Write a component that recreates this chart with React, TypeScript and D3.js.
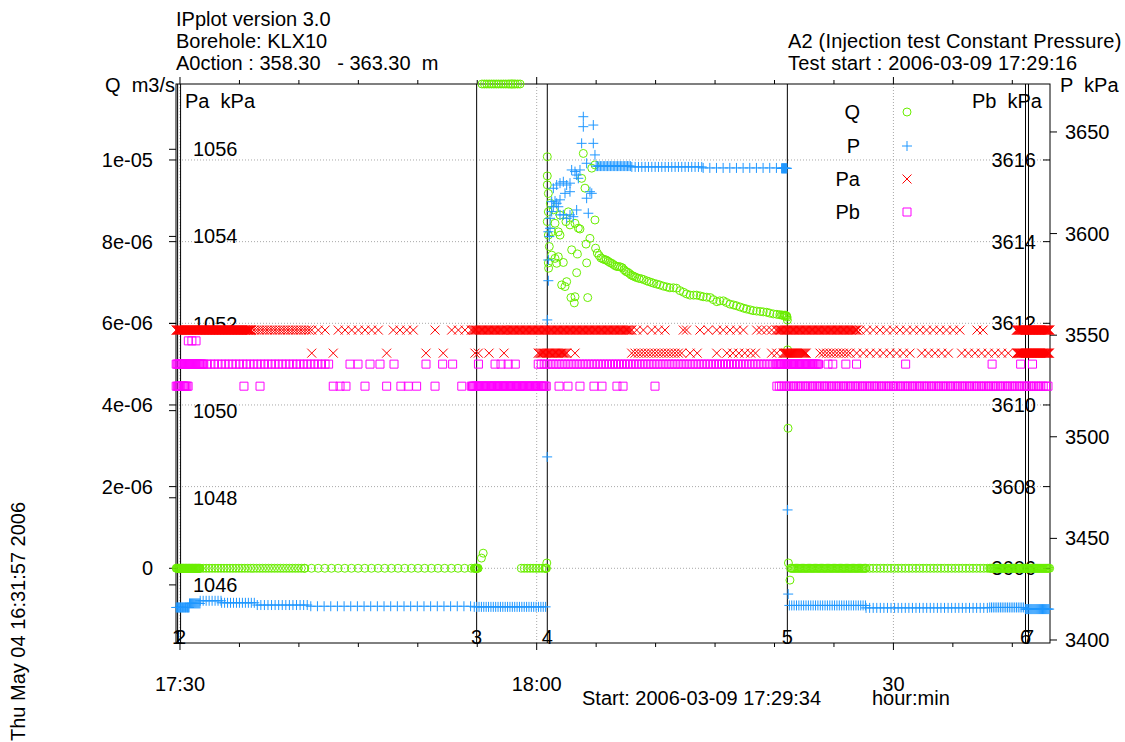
import React from "react";
import * as d3 from "d3";

type Pt = [number, number];
type Run = [number, number, number, number]; // [fromMinute, toMinute, sampleStep, value]

const FONT = "'Liberation Sans', Arial, Helvetica, sans-serif";
const FS = 20;

// ---------------- texts ----------------
const headerLeft = ["IPplot version 3.0", "Borehole: KLX10", "A0ction : 358.30   - 363.30  m"];
const headerRight = ["A2 (Injection test Constant Pressure)", "Test start : 2006-03-09 17:29:16"];
const printStamp = "Thu May 04 16:31:57 2006";
const startLabel = "Start: 2006-03-09 17:29:34";
const unitLabel = "hour:min";

// ---------------- axes ----------------
// time is in minutes after 17:30
const timeDomain: [number, number] = [-0.336, 73.17];
const timeMinorTicks = [0, 5, 10, 15, 20, 25, 30, 35, 40, 45, 50, 55, 60, 65, 70];
const timeMajorTicks = [0, 30, 60];
const timeMajorLabels = ["17:30", "18:00", "30"];

const qDomain: [number, number] = [-1.83e-6, 11.861e-6];
const qTicks = [0, 2e-6, 4e-6, 6e-6, 8e-6, 1e-5];
const qTickLabels = ["0", "2e-06", "4e-06", "6e-06", "8e-06", "1e-05"];

const paDomain: [number, number] = [1044.666, 1057.499];
const paTicks = [1046, 1048, 1050, 1052, 1054, 1056];

const pbDomain: [number, number] = [3604.17, 3617.861];
const pbTicks = [3606, 3608, 3610, 3612, 3614, 3616];

const pDomain: [number, number] = [3398.52, 3673.6];
const pTicks = [3400, 3450, 3500, 3550, 3600, 3650];

const eventTimes = [-0.2, 0.05, 24.95, 30.89, 51.08, 71.11, 71.36];
const eventLabels = ["1", "2", "3", "4", "5", "6", "7"];

// ---------------- data ----------------
// Q (m3/s)
const qRuns: Run[] = [
  [-0.32, 1.7, 0.05, 0],
  [1.7, 10.5, 0.25, 0],
  [10.5, 24.75, 0.56, 0],
  [24.75, 25.1, 0.04, 0],
  [25.4, 28.6, 0.2, 20e-6],
  [28.7, 30.7, 0.25, 0],
  [30.7, 30.85, 0.04, 0],
  [51.35, 57.7, 0.1, 0],
  [57.7, 68.1, 0.3, 0],
  [68.1, 73.15, 0.08, 0],
];
const qPoints: Pt[] = [
  [25.35, 0.25e-6], [25.5, 0.37e-6], [30.85, 0.13e-6],
  [30.89, 10.08e-6], [30.89, 9.61e-6], [30.89, 9.39e-6], [30.98, 9.18e-6], [30.98, 8.73e-6],
  [30.89, 8.49e-6], [30.98, 8.16e-6], [31.06, 7.88e-6], [30.98, 7.48e-6], [31.0, 7.35e-6],
  [31.15, 8.94e-6], [31.26, 7.67e-6], [31.54, 7.59e-6], [31.82, 7.63e-6], [31.68, 7.47e-6],
  [32.24, 7.49e-6], [31.26, 8.24e-6], [31.54, 8.45e-6], [31.82, 8.24e-6], [31.96, 8.16e-6],
  [31.4, 8.78e-6], [31.96, 8.65e-6], [32.46, 8.49e-6], [32.66, 8.73e-6], [32.8, 8.41e-6],
  [33.22, 8.45e-6], [33.5, 8.33e-6], [33.64, 8.31e-6], [32.1, 6.94e-6], [32.52, 7.02e-6],
  [32.38, 6.9e-6], [32.94, 7.8e-6], [33.42, 7.7e-6], [33.36, 7.24e-6], [32.88, 6.63e-6],
  [33.22, 6.65e-6], [33.16, 6.5e-6], [34.29, 6.63e-6], [34.2, 7.48e-6], [34.15, 7.94e-6],
  [33.92, 10.16e-6], [33.78, 9.55e-6], [34.06, 9.31e-6], [34.48, 8.08e-6], [34.9, 8.53e-6],
  [34.63, 9.8e-6], [34.9, 9.88e-6],
  [34.95, 7.84e-6], [35.1, 7.72e-6], [35.25, 7.66e-6], [35.4, 7.6e-6], [35.55, 7.58e-6],
  [35.7, 7.56e-6], [35.85, 7.55e-6], [36.0, 7.52e-6], [36.15, 7.49e-6], [36.3, 7.47e-6],
  [36.45, 7.44e-6], [36.6, 7.41e-6], [36.75, 7.39e-6], [36.9, 7.39e-6], [37.05, 7.38e-6],
  [37.2, 7.36e-6], [37.35, 7.31e-6], [37.5, 7.27e-6], [37.65, 7.25e-6], [37.8, 7.22e-6],
  [37.95, 7.18e-6], [38.1, 7.16e-6], [38.25, 7.14e-6], [38.4, 7.12e-6], [38.6, 7.1e-6],
  [38.8, 7.09e-6], [39.0, 7.07e-6], [39.25, 7.04e-6], [39.45, 7.02e-6], [39.65, 7.0e-6],
  [39.85, 6.98e-6], [40.1, 6.96e-6], [40.35, 6.94e-6], [40.65, 6.91e-6], [40.95, 6.89e-6],
  [41.2, 6.87e-6], [41.5, 6.87e-6], [41.75, 6.86e-6], [42.05, 6.8e-6], [42.35, 6.76e-6],
  [42.6, 6.72e-6], [42.9, 6.69e-6], [43.2, 6.69e-6], [43.45, 6.69e-6], [43.75, 6.67e-6],
  [44.0, 6.65e-6], [44.3, 6.64e-6], [44.6, 6.63e-6], [44.85, 6.58e-6], [45.15, 6.53e-6],
  [45.4, 6.55e-6], [45.7, 6.55e-6], [45.95, 6.51e-6], [46.25, 6.47e-6], [46.55, 6.45e-6],
  [46.8, 6.43e-6], [47.1, 6.4e-6], [47.4, 6.37e-6], [47.65, 6.35e-6], [47.95, 6.33e-6],
  [48.2, 6.31e-6], [48.5, 6.3e-6], [48.8, 6.29e-6], [49.05, 6.28e-6], [49.35, 6.27e-6],
  [49.6, 6.25e-6], [49.9, 6.23e-6], [50.2, 6.22e-6], [50.45, 6.21e-6], [50.6, 6.2e-6],
  [50.7, 6.2e-6], [50.8, 6.19e-6], [50.88, 6.2e-6], [50.95, 6.19e-6], [51.02, 6.18e-6],
  [51.06, 6.15e-6], [51.08, 6.08e-6], [51.1, 5.35e-6], [51.14, 3.43e-6], [51.17, 0.13e-6],
  [51.3, -0.29e-6],
];

// P (kPa)
const pRuns: Run[] = [
  [-0.32, 0.8, 0.06, 3416.0],
  [0.8, 1.7, 0.08, 3418.0],
  [1.7, 3.5, 0.25, 3419.3],
  [3.5, 6.5, 0.25, 3418.3],
  [6.5, 11.0, 0.3, 3417.2],
  [11.0, 24.75, 0.56, 3416.6],
  [24.75, 30.85, 0.2, 3416.3],
  [35.0, 38.0, 0.12, 3633.2],
  [38.0, 44.0, 0.28, 3632.8],
  [44.0, 50.6, 0.56, 3632.3],
  [50.6, 51.08, 0.04, 3632.1],
  [51.25, 57.7, 0.2, 3417.0],
  [57.7, 68.1, 0.3, 3415.8],
  [68.1, 71.1, 0.15, 3416.0],
  [71.1, 73.15, 0.08, 3415.2],
];
const pPoints: Pt[] = [
  [30.88, 3490.1], [30.89, 3557.5], [30.98, 3576.8], [30.98, 3587.0], [31.06, 3598.5],
  [30.98, 3600.9], [31.12, 3602.6], [31.12, 3607.5], [31.26, 3610.8], [31.4, 3613.2],
  [31.26, 3615.7], [31.54, 3616.0], [31.68, 3614.9], [31.96, 3616.6], [31.82, 3613.2],
  [31.4, 3622.3], [31.68, 3623.9], [31.96, 3624.8], [32.24, 3625.5], [32.52, 3623.9],
  [32.8, 3624.8], [32.38, 3619.8], [32.8, 3620.6], [32.94, 3631.3], [33.22, 3630.5],
  [33.64, 3631.3], [33.36, 3628.8], [33.5, 3627.2], [31.96, 3609.2], [32.24, 3609.2],
  [32.8, 3609.2], [33.36, 3611.6], [33.08, 3608.3], [32.52, 3607.5], [34.34, 3610.0],
  [34.2, 3617.4], [34.63, 3619.8], [34.48, 3620.6], [33.78, 3644.4], [34.76, 3644.4],
  [33.92, 3652.6], [34.76, 3653.4], [33.92, 3657.5], [34.9, 3638.7], [34.2, 3634.6],
  [51.1, 3464.0], [51.15, 3422.6],
];

// Pa (kPa)
const paRuns: Run[] = [
  [-0.32, 6.0, 0.05, 1051.85],
  [6.0, 10.9, 0.22, 1051.85],
  [24.5, 38.1, 0.1, 1051.85],
  [50.15, 56.95, 0.1, 1051.85],
  [57.19, 65.7, 0.56, 1051.85],
  [70.35, 73.15, 0.05, 1051.85],
  [30.13, 32.55, 0.1, 1051.32],
  [37.99, 42.35, 0.28, 1051.32],
  [50.74, 52.7, 0.08, 1051.32],
  [53.83, 56.1, 0.28, 1051.32],
  [56.35, 61.7, 0.56, 1051.32],
  [62.38, 64.95, 0.56, 1051.32],
  [65.74, 70.1, 0.56, 1051.32],
  [70.37, 73.15, 0.05, 1051.32],
];
const paPoints: Pt[] = [
  [11.08, 1051.85], [11.63, 1051.85], [12.2, 1051.85], [13.31, 1051.85], [13.88, 1051.85],
  [14.44, 1051.85], [15.0, 1051.85], [15.56, 1051.85], [16.12, 1051.85], [16.68, 1051.85],
  [17.94, 1051.85], [18.5, 1051.85], [19.07, 1051.85], [19.62, 1051.85], [21.45, 1051.85],
  [22.85, 1051.85], [23.41, 1051.85], [23.97, 1051.85], [38.41, 1051.85], [38.97, 1051.85],
  [39.67, 1051.85], [40.23, 1051.85], [40.79, 1051.85], [42.33, 1051.85], [42.6, 1051.85],
  [43.73, 1051.85], [44.43, 1051.85], [45.14, 1051.85], [45.69, 1051.85], [46.26, 1051.85],
  [46.82, 1051.85], [47.38, 1051.85], [48.5, 1051.85], [48.9, 1051.85], [49.34, 1051.85],
  [49.76, 1051.85], [67.03, 1051.85], [67.54, 1051.85],
  [11.08, 1051.32], [12.89, 1051.32], [17.38, 1051.32], [20.69, 1051.32], [22.14, 1051.32],
  [24.81, 1051.32], [25.09, 1051.32], [25.99, 1051.32], [27.25, 1051.32], [33.22, 1051.32],
  [42.9, 1051.32], [43.5, 1051.32], [45.14, 1051.32], [46.0, 1051.32], [46.5, 1051.32],
  [47.0, 1051.32], [47.5, 1051.32], [48.0, 1051.32], [48.4, 1051.32], [49.76, 1051.32],
  [50.19, 1051.32],
];

// Pb (kPa)
const pbRuns: Run[] = [
  [-0.32, 2.0, 0.08, 3611.0],
  [2.0, 12.6, 0.3, 3611.0],
  [30.13, 50.2, 0.25, 3611.0],
  [50.2, 53.8, 0.1, 3611.0],
  [-0.32, 0.75, 0.1, 3610.46],
  [24.5, 30.9, 0.1, 3610.46],
  [50.2, 73.15, 0.2, 3610.46],
];
const pbPoints: Pt[] = [
  [0.7, 3611.57], [1.0, 3611.57], [1.35, 3611.57],
  [14.3, 3611.0], [14.97, 3611.0], [15.98, 3611.0], [16.82, 3611.0], [18.0, 3611.0],
  [20.69, 3611.0], [22.09, 3611.0], [22.93, 3611.0], [25.1, 3611.0], [26.5, 3611.0],
  [27.0, 3611.0], [27.6, 3611.0], [28.2, 3611.0], [54.5, 3611.0], [54.9, 3611.0],
  [56.0, 3611.0], [56.9, 3611.0], [61.03, 3611.0], [68.3, 3611.0], [70.7, 3611.0],
  [71.7, 3611.0],
  [5.38, 3610.46], [6.73, 3610.46], [12.89, 3610.46], [13.46, 3610.46], [13.96, 3610.46],
  [15.56, 3610.46], [17.38, 3610.46], [18.58, 3610.46], [19.2, 3610.46], [19.9, 3610.46],
  [21.45, 3610.46], [23.7, 3610.46], [31.88, 3610.46], [32.63, 3610.46], [33.64, 3610.46],
  [34.82, 3610.46], [35.49, 3610.46], [36.75, 3610.46], [37.26, 3610.46], [39.95, 3610.46],
];

const seriesNames = ["Q", "P", "Pa", "Pb"];
const seriesColors = ["#6aee00", "#1f97ff", "#ff0000", "#ff00ff"];

// ---------------- helpers ----------------
function expand(runs: Run[], pts: Pt[]): Pt[] {
  const out: Pt[] = [];
  for (const [a, b, step, v] of runs) {
    for (const t of d3.range(a, b, step)) out.push([t, v]);
  }
  return out.concat(pts);
}

type Kind = "circle" | "plus" | "cross" | "square";

function symbols(kind: Kind, xy: [number, number][]): string {
  const p = d3.path();
  for (const [cx, cy] of xy) {
    if (kind === "circle") {
      p.moveTo(cx + 4, cy);
      p.arc(cx, cy, 4, 0, 2 * Math.PI);
    } else if (kind === "plus") {
      p.moveTo(cx - 5, cy); p.lineTo(cx + 5, cy);
      p.moveTo(cx, cy - 5); p.lineTo(cx, cy + 5);
    } else if (kind === "cross") {
      p.moveTo(cx - 4.5, cy - 4.5); p.lineTo(cx + 4.5, cy + 4.5);
      p.moveTo(cx - 4.5, cy + 4.5); p.lineTo(cx + 4.5, cy - 4.5);
    } else {
      p.rect(cx - 4, cy - 4, 8, 8);
    }
  }
  return p.toString();
}

export default function App() {
  const W = 1125, H = 742;
  const L = 176, R = 1050, T = 84, B = 643;

  const x = d3.scaleLinear().domain(timeDomain).range([L, R]);
  const yQ = d3.scaleLinear().domain(qDomain).range([B, T]).clamp(true);
  const yPa = d3.scaleLinear().domain(paDomain).range([B, T]);
  const yPb = d3.scaleLinear().domain(pbDomain).range([B, T]);
  const yP = d3.scaleLinear().domain(pDomain).range([B, T]);

  const qData = expand(qRuns, qPoints);
  const pData = expand(pRuns, pPoints);
  const paData = expand(paRuns, paPoints);
  const pbData = expand(pbRuns, pbPoints);

  const proj = (d: Pt[], sy: d3.ScaleLinear<number, number>) =>
    d.map(([t, v]) => [x(t), sy(v)] as [number, number]);

  const txt = { fontFamily: FONT, fontSize: FS, fill: "#000", whiteSpace: "pre" as const };
  const grid = { stroke: "#a8a8a8", strokeWidth: 1, strokeDasharray: "1 2" };
  const kinds: Kind[] = ["circle", "plus", "cross", "square"];
  const legendY = [112, 146, 179, 212];

  return (
    <svg width={W} height={H} style={{ position: "absolute", left: 0, top: 0, background: "#fff" }}>
      <rect x={0} y={0} width={W} height={H} fill="#fff" />

      {/* headers */}
      {headerLeft.map((s, i) => (
        <text key={"hl" + i} x={L} y={26 + i * 22} style={txt}>{s}</text>
      ))}
      {headerRight.map((s, i) => (
        <text key={"hr" + i} x={788} y={48 + i * 22} style={{ ...txt, letterSpacing: 0.18 }}>{s}</text>
      ))}
      <text transform={`translate(25,741) rotate(-90)`} style={txt}>{printStamp}</text>

      {/* grid */}
      {qTicks.map((v, i) => (
        <line key={"gq" + i} x1={L} x2={R} y1={yQ(v)} y2={yQ(v)} style={grid} />
      ))}
      {timeMajorTicks.map((m, i) => (
        <line key={"gt" + i} x1={x(m)} x2={x(m)} y1={T} y2={B} style={grid} />
      ))}

      {/* frame */}
      <rect x={L} y={T} width={R - L} height={B - T} fill="none" stroke="#000" strokeWidth={1} />

      {/* time ticks top and bottom */}
      {timeMinorTicks.map((m, i) => {
        const major = timeMajorTicks.includes(m);
        const len = major ? 7 : 4;
        return (
          <g key={"tt" + i} stroke="#000" strokeWidth={1}>
            <line x1={x(m)} x2={x(m)} y1={T} y2={T - len} />
            <line x1={x(m)} x2={x(m)} y1={B} y2={B + len} />
          </g>
        );
      })}
      {timeMajorTicks.map((m, i) => (
        <text key={"tl" + i} x={x(m)} y={691} textAnchor="middle" style={txt}>{timeMajorLabels[i]}</text>
      ))}
      <text x={582} y={705} style={txt}>{startLabel}</text>
      <text x={872} y={705} style={txt}>{unitLabel}</text>

      {/* left axes: Q outside, Pa inside */}
      {qTicks.map((v, i) => (
        <g key={"q" + i}>
          <line x1={L - 7} x2={L} y1={yQ(v)} y2={yQ(v)} stroke="#000" />
          <text x={L - 23} y={yQ(v)} dy="0.35em" textAnchor="end" style={txt}>{qTickLabels[i]}</text>
        </g>
      ))}
      {paTicks.map((v, i) => (
        <g key={"pa" + i}>
          <line x1={L - 7} x2={L} y1={yPa(v)} y2={yPa(v)} stroke="#000" />
          <text x={L + 17} y={yPa(v)} dy="0.35em" style={txt}>{v}</text>
        </g>
      ))}
      <text x={L - 1} y={92} textAnchor="end" style={txt}>{"Q  m3/s"}</text>
      <text x={L + 9} y={108} style={txt}>{"Pa  kPa"}</text>

      {/* right axes: P outside, Pb inside */}
      {pTicks.map((v, i) => (
        <g key={"p" + i}>
          <line x1={R} x2={R + 7} y1={yP(v)} y2={yP(v)} stroke="#000" />
          <text x={R + 15} y={yP(v)} dy="0.35em" style={txt}>{v}</text>
        </g>
      ))}
      {pbTicks.map((v, i) => (
        <g key={"pb" + i}>
          <line x1={R - 7} x2={R} y1={yPb(v)} y2={yPb(v)} stroke="#000" />
          <text x={R - 14} y={yPb(v)} dy="0.35em" textAnchor="end" style={txt}>{v}</text>
        </g>
      ))}
      <text x={R + 10} y={92} style={txt}>{"P  kPa"}</text>
      <text x={R - 8} y={108} textAnchor="end" style={txt}>{"Pb  kPa"}</text>

      {/* event lines */}
      {eventTimes.map((m, i) => (
        <g key={"ev" + i}>
          <line x1={x(m)} x2={x(m)} y1={T} y2={B} stroke="#000" strokeWidth={1} />
          <text x={x(m)} y={644} textAnchor="middle" style={txt}>{eventLabels[i]}</text>
        </g>
      ))}

      {/* data */}
      <path d={symbols("circle", proj(qData, yQ))} fill="none" stroke={seriesColors[0]} strokeWidth={1} />
      <path d={symbols("plus", proj(pData, yP))} fill="none" stroke={seriesColors[1]} strokeWidth={1} />
      <path d={symbols("cross", proj(paData, yPa))} fill="none" stroke={seriesColors[2]} strokeWidth={1} />
      <path d={symbols("square", proj(pbData, yPb))} fill="none" stroke={seriesColors[3]} strokeWidth={1} />

      {/* legend */}
      {seriesNames.map((n, i) => (
        <g key={"lg" + i}>
          <text x={860} y={legendY[i]} dy="0.35em" textAnchor="end" style={txt}>{n}</text>
          <path d={symbols(kinds[i], [[907, legendY[i]]])} fill="none" stroke={seriesColors[i]} strokeWidth={1} />
        </g>
      ))}
    </svg>
  );
}
